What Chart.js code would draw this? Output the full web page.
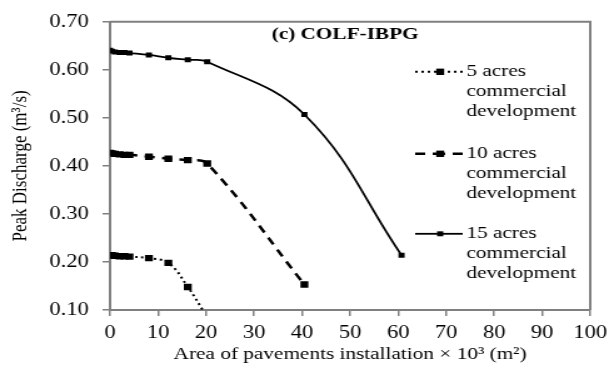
<!DOCTYPE html>
<html lang="en">
<head>
    <meta charset="UTF-8">
    <title>COLF-IBPG Peak Discharge</title>
    <script src="https://cdn.jsdelivr.net/npm/chart.js"></script>
    <style>
        * {
            margin: 0;
            padding: 0;
            box-sizing: border-box;
        }

        body {
            background-color: #ffffff;
            width: 609px;
            height: 367px;
            overflow: hidden;
        }

        /* the source figure is stretched sideways, so draw narrower and scale up */
        #chart-container {
            position: absolute;
            left: 0;
            top: 0;
            width: 487px;
            height: 367px;
            transform: scaleX(1.2505);
            transform-origin: 0 0;
        }

        #peakChart {
            width: 487px;
            height: 367px;
        }
    </style>
</head>
<body>
    <div id="chart-container">
        <canvas id="peakChart" width="487" height="367"></canvas>
    </div>

    <script>
        // Area of pavements installation (x 10^3 m2)
        const areaX = [0, 0.4, 1, 2, 3, 4.05, 8.09, 12.14, 16.19, 20.23, 40.47, 60.7];

        // Peak discharge (m3/s)
        const acres5 = [0.214, 0.214, 0.213, 0.212, 0.212, 0.211, 0.208, 0.198, 0.148, 0.085];
        const acres10 = [0.427, 0.426, 0.425, 0.424, 0.423, 0.423, 0.419, 0.415, 0.412, 0.405, 0.153];
        const acres15 = [0.641, 0.639, 0.637, 0.636, 0.636, 0.635, 0.631, 0.625, 0.621, 0.617, 0.507, 0.214];

        const legendLines = [
            ['5 acres', 'commercial', 'development'],
            ['10 acres', 'commercial', 'development'],
            ['15 acres', 'commercial', 'development'],
        ];

        const xTicks = [0, 10, 20, 30, 40, 50, 60, 70, 80, 90, 100];
        const yTicks = [0.10, 0.20, 0.30, 0.40, 0.50, 0.60, 0.70];

        const panelTitle = '(c) COLF-IBPG';
        const xTitle = 'Area of pavements installation \u00d7 10\u00b3 (m\u00b2)';
        const yTitle = 'Peak Discharge (m\u00b3/s)';

        const serif = '"Liberation Serif", "Times New Roman", serif';
        const axisGray = '#808080';

        function toPoints(values) {
            return values.map((y, i) => ({ x: areaX[i], y: y }));
        }

        // frame, panel title and the wrapped legend
        const extras = {
            id: 'extras',
            afterDatasetsDraw(chart) {
                const { ctx, chartArea: a } = chart;
                ctx.save();

                ctx.strokeStyle = axisGray;
                ctx.lineWidth = 2;
                ctx.beginPath();
                ctx.moveTo(a.left, a.top);
                ctx.lineTo(a.right, a.top);
                ctx.lineTo(a.right, a.bottom);
                ctx.stroke();

                ctx.fillStyle = '#000';
                ctx.font = 'bold 17px ' + serif;
                ctx.textAlign = 'center';
                ctx.textBaseline = 'middle';
                ctx.fillText(panelTitle, a.left + 188, a.top + 13);

                const rowTops = [50, 132, 212];
                chart.data.datasets.forEach((ds, i) => {
                    const y = a.top + rowTops[i];
                    const x0 = a.left + 244;
                    const x1 = a.left + 282;
                    const xm = a.left + 264;

                    ctx.strokeStyle = ds.borderColor;
                    ctx.lineWidth = ds.borderWidth;
                    ctx.setLineDash(ds.borderDash || []);
                    ctx.beginPath();
                    ctx.moveTo(x0, y);
                    ctx.lineTo(xm, y);
                    ctx.stroke();
                    ctx.beginPath();
                    ctx.moveTo(x1, y);
                    ctx.lineTo(xm, y);
                    ctx.stroke();
                    ctx.setLineDash([]);

                    const side = ds.pointRadius * Math.SQRT2;
                    ctx.fillStyle = '#000';
                    ctx.fillRect(xm - side / 2, y - side / 2, side, side);

                    ctx.font = '17px ' + serif;
                    ctx.textAlign = 'left';
                    legendLines[i].forEach((line, k) => {
                        ctx.fillText(line, a.left + 285, y + k * 20);
                    });
                });

                ctx.restore();
            },
        };

        const ctx = document.getElementById('peakChart').getContext('2d');
        const peakChart = new Chart(ctx, {
            type: 'line',
            data: {
                datasets: [
                    {
                        label: legendLines[0].join(' '),
                        data: toPoints(acres5),
                        borderColor: '#000',
                        borderWidth: 2,
                        borderDash: [2, 3],
                        pointStyle: 'rect',
                        pointRadius: 4.5,
                        pointBackgroundColor: '#000',
                        pointBorderWidth: 0,
                        tension: 0.4,
                        clip: 0,
                    },
                    {
                        label: legendLines[1].join(' '),
                        data: toPoints(acres10),
                        borderColor: '#000',
                        borderWidth: 2.5,
                        borderDash: [8, 6],
                        pointStyle: 'rect',
                        pointRadius: 4.5,
                        pointBackgroundColor: '#000',
                        pointBorderWidth: 0,
                        tension: 0.4,
                    },
                    {
                        label: legendLines[2].join(' '),
                        data: toPoints(acres15),
                        borderColor: '#000',
                        borderWidth: 1.8,
                        pointStyle: 'rect',
                        pointRadius: 3.5,
                        pointBackgroundColor: '#000',
                        pointBorderWidth: 0,
                        tension: 0.4,
                    },
                ],
            },
            options: {
                responsive: false,
                animation: false,
                layout: {
                    padding: { top: 20, right: 15, left: 0, bottom: 0 },
                },
                plugins: {
                    legend: { display: false },
                    tooltip: { enabled: false },
                },
                scales: {
                    x: {
                        type: 'linear',
                        min: 0,
                        max: 100,
                        afterBuildTicks: (scale) => {
                            scale.ticks = xTicks.map((v) => ({ value: v }));
                        },
                        afterFit: (scale) => {
                            scale.height = 57;
                            scale.paddingRight = 15;
                        },
                        border: { color: axisGray, width: 2 },
                        grid: {
                            drawOnChartArea: false,
                            color: axisGray,
                            lineWidth: 1.5,
                            tickLength: 6,
                        },
                        ticks: {
                            color: '#000',
                            padding: 6,
                            maxRotation: 0,
                            font: { family: serif, size: 18 },
                        },
                        title: {
                            display: true,
                            text: xTitle,
                            color: '#000',
                            padding: { top: 0, bottom: 2 },
                            font: { family: serif, size: 17 },
                        },
                    },
                    y: {
                        min: 0.1,
                        max: 0.7,
                        afterBuildTicks: (scale) => {
                            scale.ticks = yTicks.map((v) => ({ value: v }));
                        },
                        afterFit: (scale) => {
                            scale.width = 88;
                        },
                        border: { color: axisGray, width: 2 },
                        grid: {
                            drawOnChartArea: false,
                            color: axisGray,
                            lineWidth: 1.5,
                            tickLength: 6,
                        },
                        ticks: {
                            color: '#000',
                            padding: 11,
                            font: { family: serif, size: 18 },
                            callback: (v) => Number(v).toFixed(2),
                        },
                        title: {
                            display: true,
                            text: yTitle,
                            color: '#000',
                            padding: { top: 6, bottom: 0 },
                            font: { family: serif, size: 17 },
                        },
                    },
                },
            },
            plugins: [extras],
        });
    </script>
</body>
</html>
